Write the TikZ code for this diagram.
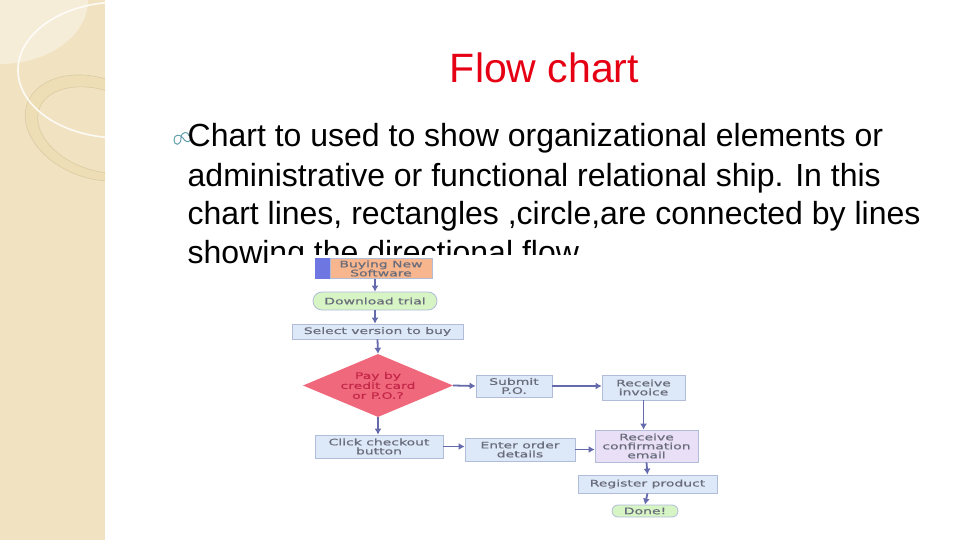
\documentclass[tikz,border=0pt]{standalone}
\usepackage{fontspec}
\setmainfont{Liberation Sans}
\newfontfamily\chartfont[FakeStretch=1.55,FakeBold=0.6]{DejaVu Sans}
\usetikzlibrary{shapes.geometric,arrows.meta}

\definecolor{strip}{RGB}{241,227,194}
\definecolor{stripl}{RGB}{246,237,216}
\definecolor{ringfill}{RGB}{238,222,182}
\definecolor{ringline}{RGB}{220,202,162}
\definecolor{titlered}{RGB}{230,0,20}
\definecolor{bulletteal}{RGB}{100,160,172}
\definecolor{boxblue}{RGB}{221,232,248}
\definecolor{boxline}{RGB}{176,188,216}
\definecolor{boxgreen}{RGB}{214,244,196}
\definecolor{boxpurple}{RGB}{233,223,246}
\definecolor{boxorange}{RGB}{248,182,142}
\definecolor{boxstrip}{RGB}{110,118,225}
\definecolor{diapink}{RGB}{240,104,124}
\definecolor{diatext}{RGB}{196,40,72}
\definecolor{flowarrow}{RGB}{100,106,172}
\definecolor{chartgray}{RGB}{105,108,122}

\tikzset{
  body/.style={anchor=base west,inner sep=0pt,font=\fontsize{32}{38}\selectfont},
  stepbox/.style={draw=boxline,fill=boxblue,line width=0.8pt,inner sep=0pt,align=center,
    text=chartgray,font=\chartfont\fontsize{9}{9}\selectfont},
  endbox/.style={stepbox,fill=boxgreen,rounded corners=7pt},
  flow/.style={draw=flowarrow,line width=1.8pt,-{Latex[length=6pt,width=7pt]}}
}

\begin{document}
\begin{tikzpicture}[x=1pt,y=-1pt]
\useasboundingbox (0,0) rectangle (960,540);
\fill[strip] (0,0) rectangle (105,540);
\begin{scope}
\clip (0,0) rectangle (105,540);
\fill[stripl] (0,0) -- (88,0) arc[start angle=0,end angle=90,x radius=88,y radius=64] -- cycle;
\fill[ringfill,even odd rule,rotate around={-20:(95,128)}]
  (95,128) ellipse[x radius=72,y radius=50] (98,129) ellipse[x radius=62,y radius=40];
\draw[ringline,line width=0.6pt,rotate around={-20:(95,128)}] (95,128) ellipse[x radius=72,y radius=50];
\draw[ringline,line width=0.6pt,rotate around={-20:(95,128)}] (98,129) ellipse[x radius=62,y radius=40];
\draw[white,opacity=0.85,line width=1.6pt] (120,70) ellipse[x radius=102,y radius=68];
\end{scope}

\node[anchor=base,inner sep=0pt,text=titlered,font=\fontsize{41}{48}\selectfont] (title) at (544.5,83) {Flow chart};

\draw[bulletteal,line width=1pt] (189,136) .. controls (189,131) and (181,131) .. (181,138)
  .. controls (181,146) and (174,146) .. (174,140) .. controls (174,134) and (180,134) .. (183,138)
  .. controls (185,142) and (189,143) .. (190,140);
\node[body] (line1) at (187.5,147) {Chart to used to show organizational elements or};
\node[body] (line2) at (187.5,186) {administrative or functional relational ship. In this};
\node[body] (line3) at (187.5,224.5) {chart lines, rectangles ,circle,are connected by lines};
\node[body,text depth=0pt] (line4) at (187.5,263) {showing the directional flow};
\fill[white] (268,255) rectangle (735,535);

\node[stepbox,fill=boxorange,minimum width=102pt,minimum height=20pt] (buy) at (381,268.5) {Buying New\\Software};
\fill[boxstrip] ([xshift=-15pt]buy.north west) rectangle (buy.south west);
\node[endbox,minimum width=124pt,minimum height=18pt,rounded corners=9pt] (trial) at (375,301) {Download trial};
\node[stepbox,minimum width=171pt,minimum height=15pt] (select) at (377.5,331.5) {Select version to buy};
\node[diamond,aspect=2.4,fill=diapink,inner sep=0pt,minimum width=150pt,minimum height=63pt,align=center,
  text=diatext,font=\chartfont\fontsize{9}{10}\selectfont] (pay) at (378,385.5) {Pay by\\credit card\\or P.O.?};
\node[stepbox,minimum width=76pt,minimum height=22pt] (submit) at (514,386) {Submit\\P.O.};
\node[stepbox,minimum width=83pt,minimum height=25pt] (invoice) at (643.5,387.5) {Receive\\invoice};
\node[stepbox,fill=boxpurple,minimum width=103pt,minimum height=32pt] (confirm) at (646.5,446) {Receive\\confirmation\\email};
\node[stepbox,minimum width=139pt,minimum height=18pt] (register) at (647.5,484) {Register product};
\node[endbox,minimum width=66pt,minimum height=12pt,rounded corners=6pt] (done) at (645,511) {Done!};
\node[stepbox,minimum width=128pt,minimum height=23pt] (checkout) at (379,446.5) {Click checkout\\button};
\node[stepbox,minimum width=110pt,minimum height=23pt] (order) at (520,449.5) {Enter order\\details};

\draw[flow] (trial.north |- buy.south) -- (trial.north);
\draw[flow] (trial.south) -- (trial.south |- select.north);
\draw[flow] (select.south) -- (pay.north);
\draw[flow] (pay.east) -- (submit.west);
\draw[flow] (submit.east) -- (submit.east -| invoice.west);
\draw[flow] (invoice.south) -- (invoice.south |- confirm.north);
\draw[flow] (confirm.south) -- (register.north);
\draw[flow] (register.south) -- (done.north);
\draw[flow] (pay.south) -- (pay.south |- checkout.north);
\draw[flow] (checkout.east) -- (checkout.east -| order.west);
\draw[flow] (order.east) -- (order.east -| confirm.west);
\end{tikzpicture}
\end{document}
